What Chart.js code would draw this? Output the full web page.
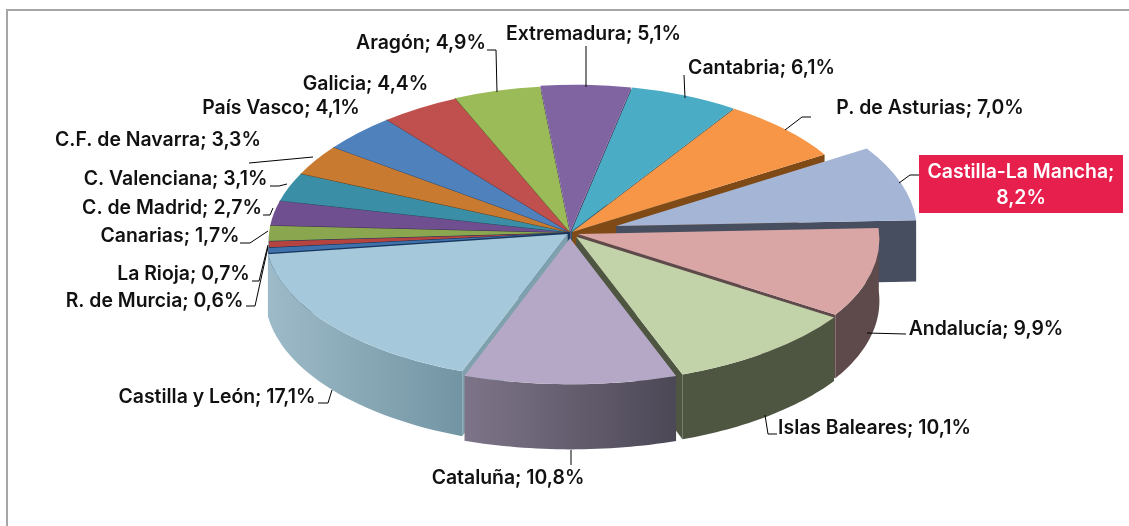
<!DOCTYPE html>
<html><head><meta charset="utf-8">
<style>html,body{margin:0;padding:0;background:#fff}#wrap{width:1129px;height:526px;position:relative}</style>
<script src="https://cdn.jsdelivr.net/npm/chart.js@4"></script>
</head><body><div id="wrap"><canvas id="c" width="1129" height="526"></canvas></div>
<script>
const regions=["Extremadura","Cantabria","P. de Asturias","Castilla-La Mancha","Andalucía","Islas Baleares","Cataluña","Castilla y León","R. de Murcia","La Rioja","Canarias","C. de Madrid","C. Valenciana","C.F. de Navarra","País Vasco","Galicia","Aragón"];
const shares=[5.1,6.1,7.0,8.2,9.9,10.1,10.8,17.1,0.6,0.7,1.7,2.7,3.1,3.3,4.1,4.4,4.9];
const topColors=["#8064A2","#4BACC6","#F79646","#A5B5D6","#D9A6A5","#C3D3A9","#B5A8C6","#A5C9DB","#3F72AC","#B5433F","#8AA64F","#6F4F8F","#3A8FA6","#C87A30","#4F81BD","#C0504D","#9BBB59"];
const wallFrom=["#4A3A60","#2B6473","#7F4A16","#474E60","#5E4A4A","#4E5642","#7E7489","#9DBAC8","#16355C","#16355C","#16355C","#3C2B50","#1F5563","#6E4318","#254A75","#6E2D2B","#55682F"];
const wallTo=["#4A3A60","#2B6473","#7F4A16","#474E60","#5E4A4A","#4E5642","#4C4856","#7395A3","#16355C","#16355C","#16355C","#3C2B50","#1F5563","#6E4318","#254A75","#6E2D2B","#55682F"];
const cutColors=["#4A3A60","#2B6473","#7F4A16","#474E60","#5E4A4A","#4E5642","#4C4856","#7FA0AD","#16355C","#16355C","#16355C","#3C2B50","#1F5563","#6E4318","#254A75","#6E2D2B","#55682F"];
const explode=[3,3,3,48,8,10,11,3,1,0,0,0,0,0,0,0,1];
const labelSpots=[[593.5,34],[761.5,68],[930,108],[1021,185],[986,329],[874.5,428],[508,478],[217,397],[154.5,301],[183.5,274],[170,236],[172,208],[175.5,179],[158,140],[281,108],[365.5,84],[421,43]];
const leaders=[[[586,46],[586,87]],[[684,75],[685,98]],[[811,117],[802,117],[785,130]],[[919,175],[910,175],[899,183]],[[906,334],[867,333]],[[777,434],[768,434],[765,415]],[[571,450],[571,465]],[[318,403],[328,403],[332,390]],[[246,306],[255,306],[268,247]],[[252,281],[259,281],[268,245]],[[240,243],[250,243],[268,231]],[[263,215],[270,215],[273,208]],[[270,186],[279,186],[287,184]],[[249,163],[313,157]],[],[],[[487,50],[496,50],[497,92]]];
const SQUASH=0.487, PERSP=0.055, FRONT_SHEAR=5, RIGHT_TILT=4, FONT='600 19.4px Inter, sans-serif';
const depthAt=(v,R)=>61.5+3.5*v/R;
const fmt=(n,v)=>n+"; "+v.toFixed(1).replace(".",",")+"%";

const pie3d={id:'pie3d',
 beforeDraw(chart){const g=chart.ctx;g.save();g.fillStyle='#fff';g.fillRect(0,0,1129,526);g.strokeStyle='#A6A6A6';g.lineWidth=2;g.beginPath();g.moveTo(7,526);g.lineTo(7,10);g.lineTo(1129,10);g.stroke();g.restore();},
 beforeDatasetsDraw(chart){
  const g=chart.ctx, arcs=chart.getDatasetMeta(0).data;
  const order=arcs.map((a,i)=>i).sort((p,q)=>Math.sin((arcs[p].startAngle+arcs[p].endAngle)/2)-Math.sin((arcs[q].startAngle+arcs[q].endAngle)/2));
  order.forEach(i=>{
   const a=arcs[i],mid=(a.startAngle+a.endAngle)/2,R=a.outerRadius;
   const ex=explode[i]*Math.cos(mid),ey=explode[i]*Math.sin(mid);
   const view=(u,v)=>[a.x+u*(1+PERSP*v/R)+FRONT_SHEAR*Math.max(0,v)/R,a.y+SQUASH*v-RIGHT_TILT*Math.max(0,u)/R];
   const us=R*Math.cos(a.startAngle),vs=R*Math.sin(a.startAngle),ue=R*Math.cos(a.endAngle),ve=R*Math.sin(a.endAngle);
   const A=view(ex,ey),S=view(ex+us,ey+vs),E=view(ex+ue,ey+ve);
   const det=us*ve-ue*vs,sx=S[0]-A[0],sy=S[1]-A[1],tx=E[0]-A[0],ty=E[1]-A[1];
   const m11=(sx*ve-tx*vs)/det,m12=(tx*us-sx*ue)/det,m21=(sy*ve-ty*vs)/det,m22=(ty*us-sy*ue)/det;
   const P=t=>{const u=R*Math.cos(t),v=R*Math.sin(t);return [A[0]+m11*u+m12*v,A[1]+m21*u+m22*v];};
   const D=t=>depthAt(ey+R*Math.sin(t),R);
   const quad=(p,t)=>{g.beginPath();g.moveTo(A[0],A[1]);g.lineTo(p[0],p[1]);g.lineTo(p[0],p[1]+D(t));g.lineTo(A[0],A[1]+depthAt(ey,R));g.closePath();g.fill();};
   g.save();
   g.fillStyle=cutColors[i];
   if(-Math.cos(a.startAngle)>0)quad(S,a.startAngle);
   if(Math.cos(a.endAngle)>0)quad(E,a.endAngle);
   const TAU=Math.PI*2;
   for(let k=-1;k<=1;k++){
    const s=Math.max(a.startAngle,k*TAU),e=Math.min(a.endAngle,k*TAU+Math.PI);
    if(e>s){
     const x0=P(s)[0],x1=P(e)[0],l=g.createLinearGradient(Math.min(x0,x1),0,Math.max(x0,x1),0);
     l.addColorStop(0,wallFrom[i]);l.addColorStop(1,wallTo[i]);g.fillStyle=l;
     g.beginPath();
     for(let n=0;n<=32;n++){const p=P(s+(e-s)*n/32);n?g.lineTo(p[0],p[1]):g.moveTo(p[0],p[1]);}
     for(let n=32;n>=0;n--){const t=s+(e-s)*n/32,p=P(t);g.lineTo(p[0],p[1]+D(t));}
     g.closePath();g.fill();
    }
   }
   g.restore();
   g.save();g.translate(A[0],A[1]);g.transform(m11,m21,m12,m22,0,0);g.translate(-a.x,-a.y);a.draw(g);g.restore();
   if(explode[i]<=2){g.save();g.strokeStyle=cutColors[i];g.lineWidth=1;g.beginPath();g.moveTo(A[0],A[1]);g.lineTo(S[0],S[1]);g.stroke();g.restore();}
  });
  return false;
 },
 afterDraw(chart){
  const g=chart.ctx;g.save();
  g.strokeStyle='#000';g.lineWidth=1;
  leaders.forEach(l=>{if(!l.length)return;g.beginPath();l.forEach((p,j)=>j?g.lineTo(p[0],p[1]):g.moveTo(p[0],p[1]));g.stroke();});
  g.font=FONT;g.textAlign='center';g.textBaseline='middle';
  regions.forEach((n,i)=>{
   const [x,y]=labelSpots[i];
   if(n==="Castilla-La Mancha"){
    g.fillStyle='#E61F4D';g.fillRect(919,155,204,58);
    g.fillStyle='#fff';g.fillText(n+";",x,172);g.fillText(shares[i].toFixed(1).replace(".",",")+"%",x,198);
   }else{g.fillStyle='#111';g.fillText(fmt(n,shares[i]),x,y);}
  });
  g.restore();
 }
};
new Chart(document.getElementById('c'),{
 type:'pie',
 data:{labels:regions,datasets:[{data:shares,backgroundColor:topColors,borderWidth:0,radius:301}]},
 options:{responsive:false,animation:false,rotation:-6,layout:{padding:{left:11,top:0,bottom:60}},
  plugins:{legend:{display:false},tooltip:{enabled:false}}},
 plugins:[pie3d]
});
</script></body></html>
